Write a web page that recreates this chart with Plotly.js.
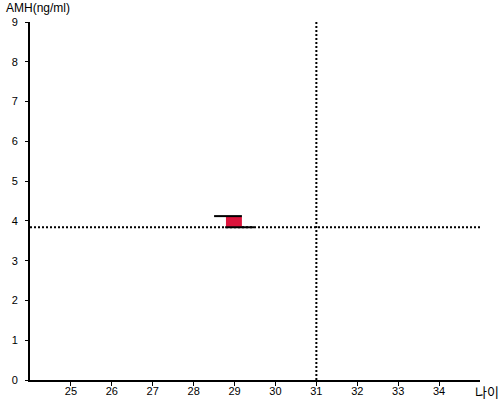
<!DOCTYPE html>
<html>
<head>
<meta charset="utf-8">
<script src="https://cdn.plot.ly/plotly-3.0.1.min.js"></script>
<style>html,body{margin:0;padding:0;background:#fff}#chart{width:500px;height:400px}</style>
</head>
<body>
<div id="chart"></div>
<script>
// Data
const ageTicks = [25, 26, 27, 28, 29, 30, 31, 32, 33, 34];
const amhTicks = [0, 1, 2, 3, 4, 5, 6, 7, 8, 9];
const boxAge = [28.79, 29.18];      // red range box (age)
const boxAMH = [3.84, 4.10];        // red range box (AMH)
const upperAge = [28.5, 29.18];     // upper bar
const upperAMH = 4.12;
const lowerAge = [28.77, 29.48];    // lower bar
const lowerAMH = 3.84;
const refAge = 31;                  // vertical dotted reference
const refAMH = 3.84;                // horizontal dotted reference
const ageRange = [24, 35];
const amhRange = [0, 9];

const traces = [
  {x: [refAge, refAge], y: amhRange, mode: 'lines',
   line: {color: '#000', width: 2, dash: '2px,2px'}, hoverinfo: 'skip'},
  {x: ageRange, y: [refAMH, refAMH], mode: 'lines',
   line: {color: '#000', width: 2, dash: '2px,2px'}, hoverinfo: 'skip'},
  {x: [boxAge[0], boxAge[1], boxAge[1], boxAge[0], boxAge[0]],
   y: [boxAMH[0], boxAMH[0], boxAMH[1], boxAMH[1], boxAMH[0]],
   mode: 'lines', fill: 'toself', fillcolor: '#DC143C',
   line: {color: '#DC143C', width: 0}, hoverinfo: 'skip'},
  {x: upperAge, y: [upperAMH, upperAMH], mode: 'lines',
   line: {color: '#000', width: 2}, hoverinfo: 'skip'},
  {x: lowerAge, y: [lowerAMH, lowerAMH], mode: 'lines',
   line: {color: '#000', width: 2}, hoverinfo: 'skip'}
];

const layout = {
  width: 500, height: 400,
  margin: {l: 30, r: 20, t: 22, b: 20},
  paper_bgcolor: '#fff', plot_bgcolor: '#fff',
  showlegend: false,
  font: {family: 'Liberation Sans, Arial, sans-serif', size: 11, color: '#000'},
  xaxis: {
    range: ageRange, tickvals: ageTicks, ticktext: ageTicks.map(String),
    showgrid: false, zeroline: false, showline: true, linecolor: '#000', linewidth: 2,
    ticks: 'outside', ticklen: 4, tickwidth: 1, tickcolor: '#000',
    ticklabelstandoff: -4,
    tickfont: {size: 11, color: '#000'}, fixedrange: true
  },
  yaxis: {
    range: amhRange, tickvals: amhTicks, ticktext: amhTicks.map(String),
    showgrid: false, zeroline: false, showline: true, linecolor: '#000', linewidth: 2,
    ticks: 'outside', ticklen: 3, tickwidth: 1, tickcolor: '#000',
    ticklabelstandoff: 5,
    tickfont: {size: 11, color: '#000'}, fixedrange: true
  },
  annotations: [
    {text: 'AMH(ng/ml)', xref: 'paper', yref: 'paper', x: -30/450, y: 1,
     xanchor: 'left', yanchor: 'bottom', showarrow: false,
     xshift: 4, yshift: 5, font: {size: 12, color: '#000'}},
    {text: '나이', xref: 'paper', yref: 'paper', x: 1, y: 0,
     xanchor: 'left', yanchor: 'middle', showarrow: false, xshift: -7, yshift: -11,
     font: {family: 'Noto Sans CJK KR, sans-serif', size: 13, color: '#000'}}
  ]
};

Plotly.newPlot('chart', traces, layout, {displayModeBar: false, staticPlot: true});
</script>
</body>
</html>
